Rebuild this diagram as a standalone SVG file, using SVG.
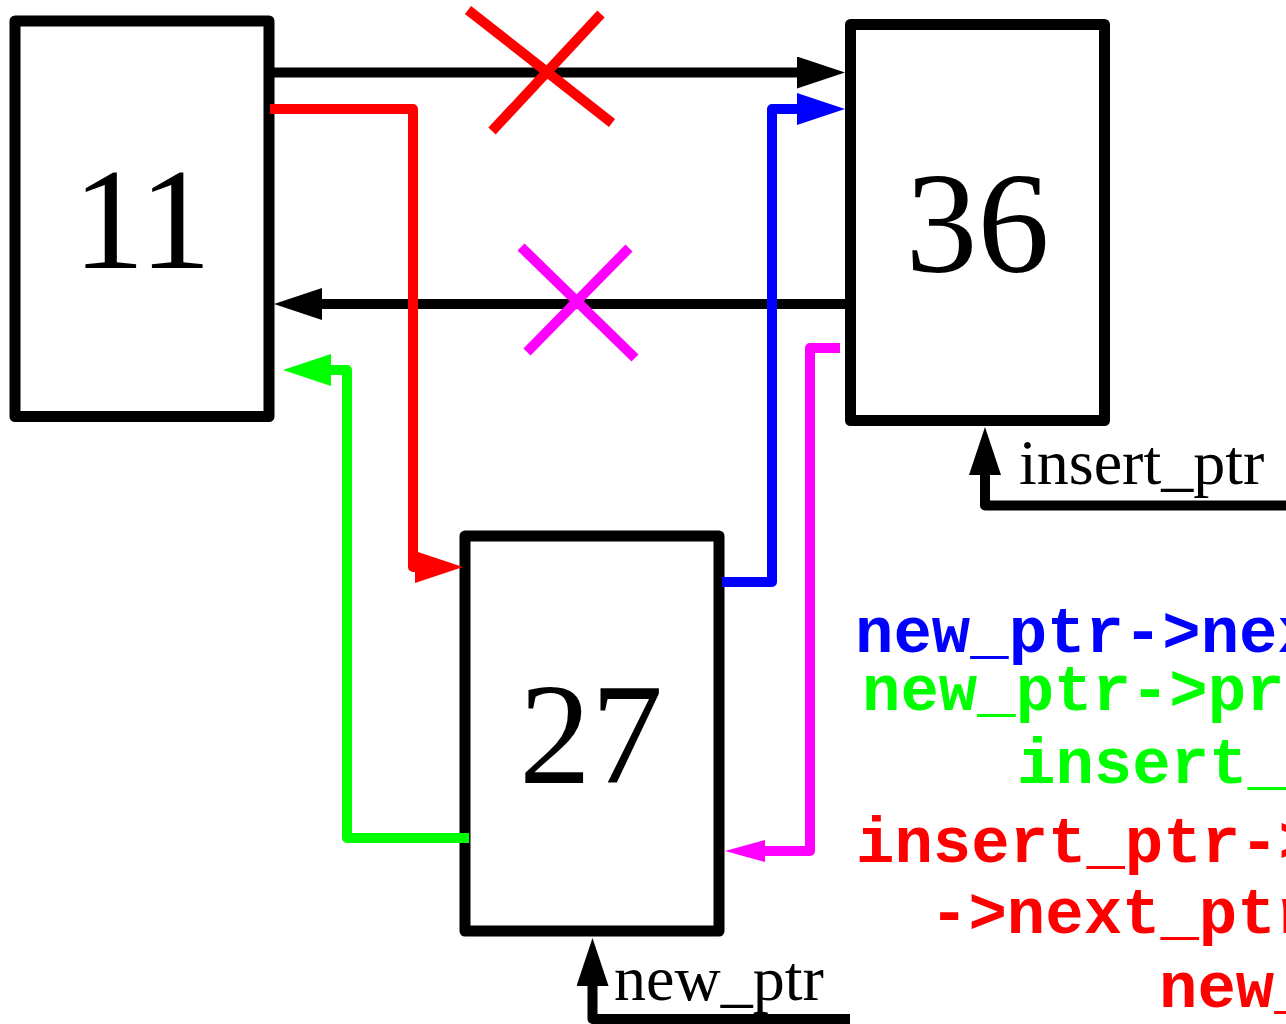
<svg xmlns="http://www.w3.org/2000/svg" width="1286" height="1024" viewBox="0 0 1286 1024">
  <style>
    .box { fill: #ffffff; stroke: #000000; stroke-width: 11; stroke-linejoin: round; }
    .num { font-family: "Liberation Serif", "Times New Roman", serif; font-size: 144px; fill: #000000; text-anchor: middle; }
    .ptr { font-family: "Liberation Serif", "Times New Roman", serif; font-size: 64px; fill: #000000; }
    .code { font-family: "Liberation Mono", "Courier New", monospace; font-weight: bold; font-size: 64px; }
    .link { fill: none; stroke-width: 10; stroke-linejoin: round; }
    .cross { stroke-width: 10; }
  </style>
  <defs>
    <marker id="head-black" viewBox="-8 -16 48 32" refX="0" refY="0" markerWidth="48" markerHeight="32" markerUnits="userSpaceOnUse" orient="auto">
      <path d="M-8,-16 L40,0 L-8,16 z" fill="#000000"/>
    </marker>
    <marker id="head-red" viewBox="-8 -16 48 32" refX="0" refY="0" markerWidth="48" markerHeight="32" markerUnits="userSpaceOnUse" orient="auto">
      <path d="M-8,-16 L40,0 L-8,16 z" fill="#ff0000"/>
    </marker>
    <marker id="head-blue" viewBox="-8 -16 48 32" refX="0" refY="0" markerWidth="48" markerHeight="32" markerUnits="userSpaceOnUse" orient="auto">
      <path d="M-8,-16 L40,0 L-8,16 z" fill="#0000ff"/>
    </marker>
    <marker id="head-green" viewBox="-8 -16 48 32" refX="0" refY="0" markerWidth="48" markerHeight="32" markerUnits="userSpaceOnUse" orient="auto">
      <path d="M-8,-16 L40,0 L-8,16 z" fill="#00ff00"/>
    </marker>
    <marker id="head-magenta" viewBox="-5 -11 40 22" refX="0" refY="0" markerWidth="40" markerHeight="22" markerUnits="userSpaceOnUse" orient="auto">
      <path d="M-5,-11 L35,0 L-5,11 z" fill="#ff00ff"/>
    </marker>
  </defs>

  <rect width="1286" height="1024" fill="#ffffff"/>

  <!-- list nodes -->
  <g id="node-11">
    <rect class="box" x="15" y="21" width="254" height="395.5"/>
    <text class="num" x="142" y="268">11</text>
  </g>
  <g id="node-36">
    <rect class="box" x="850.5" y="24.5" width="254" height="396"/>
    <text class="num" x="977.5" y="272">36</text>
  </g>
  <g id="node-27">
    <rect class="box" x="465" y="536" width="254" height="395"/>
    <text class="num" x="591" y="783">27</text>
  </g>

  <!-- links between nodes -->
  <g id="connectors">
    <path class="link" stroke="#000000" d="M273,72.5 H805" marker-end="url(#head-black)"/>
    <path class="link" stroke="#000000" d="M850,304 H314" marker-end="url(#head-black)"/>
    <path class="link" stroke="#ff0000" d="M270,109 H413 V567 H423" marker-end="url(#head-red)"/>
    <path class="link" stroke="#0000ff" d="M722,582 H772 V109 H805" marker-end="url(#head-blue)"/>
    <path class="link" stroke="#00ff00" d="M469,838 H347 V370 H323" marker-end="url(#head-green)"/>
    <path class="link" stroke="#ff00ff" d="M840,348 H810 V851 H760" marker-end="url(#head-magenta)"/>

    <!-- removed links -->
    <g class="cross" stroke="#ff0000">
      <line x1="492" y1="131" x2="601" y2="14"/>
      <line x1="468" y1="10" x2="612" y2="123"/>
    </g>
    <g class="cross" stroke="#ff00ff">
      <line x1="521" y1="247" x2="635" y2="358"/>
      <line x1="629" y1="248" x2="527" y2="352"/>
    </g>
  </g>

  <!-- named pointers -->
  <g id="insert-ptr">
    <path class="link" stroke="#000000" d="M1290,505.5 H985 V467" marker-end="url(#head-black)"/>
    <text class="ptr" x="1019" y="484">insert_ptr</text>
  </g>
  <g id="new-ptr">
    <path class="link" stroke="#000000" d="M850,1019 H592.5 V978" marker-end="url(#head-black)"/>
    <text class="ptr" x="614" y="1000">new_ptr</text>
  </g>

  <!-- pointer updates -->
  <g id="code">
    <text class="code" fill="#0000ff" x="855" y="652">new_ptr-&gt;nex</text>
    <text class="code" fill="#00ff00" x="862" y="710">new_ptr-&gt;pr</text>
    <text class="code" fill="#00ff00" x="1017" y="783">insert_</text>
    <text class="code" fill="#ff0000" x="856" y="862">insert_ptr-&gt;</text>
    <text class="code" fill="#ff0000" x="930" y="933">-&gt;next_ptr</text>
    <text class="code" fill="#ff0000" x="1159" y="1007">new_</text>
  </g>
</svg>
